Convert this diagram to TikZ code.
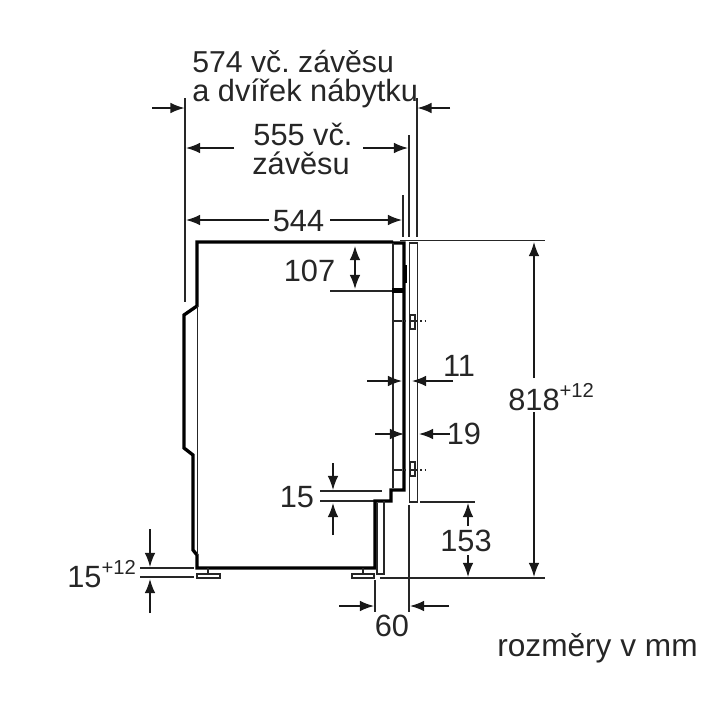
\documentclass[tikz,border=0pt]{standalone}
\usepackage{fontspec}
\setmainfont{Liberation Sans}
\usetikzlibrary{arrows.meta}
\frenchspacing
\newcommand{\plustol}{\raisebox{0.42em}{\fontsize{11.5}{12}\selectfont +12}}
\tikzstyle{ann} = [text=black!85,font=\fontsize{17.5}{20}\selectfont,inner sep=0pt]
\tikzstyle{thin line} = [line width=0.9pt,black!85]
\tikzstyle{wall} = [line width=1.9pt,black,line join=miter]
\tikzstyle{dim} = [line width=0.8pt,black!90,-{Latex[length=8pt,width=6pt]}]
\tikzstyle{dbl} = [line width=0.8pt,black!90,{Latex[length=8pt,width=6pt]}-{Latex[length=8pt,width=6pt]}]
\tikzstyle{axis} = [line width=0.7pt,black!85,dash pattern=on5pt off1.5pt on1pt off1.5pt]

\begin{document}
\begin{tikzpicture}[x=0.02cm,y=-0.02cm]
\useasboundingbox (0,0) rectangle (714,714);

% extension lines
\draw[thin line] (185,98) -- (185,302);
\draw[thin line] (417,98) -- (417,237);
\draw[thin line] (409,135) -- (409,237);
\draw[thin line] (403,195) -- (403,237);
\draw[thin line] (400,240.5) -- (545,240.5);
\draw[thin line] (380,578) -- (545,578);
\draw[thin line] (420,502) -- (475,502);
\draw[thin line] (375,580) -- (375,612);
\draw[thin line] (409,505) -- (409,612);
\draw[thin line] (330,291) -- (393,291);
\draw[thin line] (320,491) -- (382,491);
\draw[thin line] (320,501) -- (375,501);
\draw[thin line] (140,568) -- (194,568);
\draw[thin line] (140,577) -- (194,577);

% body
\draw[wall] (393,242) -- (197,242) -- (197,306) -- (184,315) -- (184,448) -- (193,455)
  -- (193,550) -- (197,555) -- (197,568) -- (375,568) -- (375,501) -- (391,501) -- (391,490) -- (404,490) -- (404,243) -- (393,243);
\draw[thin line] (197.5,306) -- (197.5,555);
\draw[thin line] (393,243) -- (393,488);
\draw[line width=2.8pt] (392,290.5) -- (404,290.5);
\draw[line width=1.6pt] (406,265) -- (406,283);
\draw[thin line] (384,501) -- (384,574) -- (377,574) -- (377,503);

% door panel
\draw[thin line] (409.5,243) rectangle (417.5,502);
\draw[thin line,fill=white] (410,315) rectangle (415,329);
\draw[thin line,fill=white] (410,462) rectangle (415,476);
\draw[axis] (393,321) -- (426,321);
\draw[axis] (393,470) -- (426,470);

% feet
\draw[thin line] (197,574) rectangle (220,578);
\draw[thin line] (208,568) -- (208,574);
\draw[thin line] (352,574) rectangle (374,578);
\draw[thin line] (363,568) -- (363,574);

% dimensions
\draw[dim] (152,108) -- (184.5,108);
\draw[dim] (450,108) -- (417.5,108);
\draw[dim] (234,148) -- (186,148);
\draw[dim] (363,148) -- (408,148);
\draw[dim] (269,220) -- (186,220);
\draw[dim] (330,220) -- (402,220);
\draw[dbl] (355,246) -- (355,289);
\draw[dim] (367,381) -- (402,381);
\draw[dim] (453,381) -- (412,381);
\draw[dim] (375,434) -- (404,434);
\draw[dim] (450,434) -- (419,434);
\draw[dim] (534,378) -- (534,242);
\draw[dim] (534,412) -- (534,577);
\draw[dim] (468,526) -- (468,503);
\draw[dim] (468,555) -- (468,577);
\draw[dim] (333,463) -- (333,490);
\draw[dim] (333,535) -- (333,503);
\draw[dim] (150,529) -- (150,567);
\draw[dim] (150,613) -- (150,579);
\draw[dim] (339,606) -- (374,606);
\draw[dim] (449,606) -- (410,606);

% labels
\node[ann,anchor=west,font=\fontsize{17.2}{20}\selectfont] (depthA) at (192,61.5) {574 vč. závěsu};
\node[ann,anchor=west] (depthB) at (192,93.5) {a dvířek nábytku};
\node[ann] (hingeA) at (303,134) {555 vč.};
\node[ann] (hingeB) at (301,163) {závěsu};
\node[ann] (body) at (298.5,221) {544};
\node[ann] (upper) at (309.5,271) {107};
\node[ann] (gapA) at (459,366) {11};
\node[ann] (gapB) at (464,434) {19};
\node[ann,anchor=west] (height) at (508,397) {818\plustol};
\node[ann] (lip) at (297,497) {15};
\node[ann] (lower) at (466,541) {153};
\node[ann,anchor=west] (foot) at (67,574.5) {15\plustol};
\node[ann] (offset) at (392,626) {60};
\node[ann,anchor=west,font=\fontsize{18}{20}\selectfont] (unit) at (497,648.5) {rozměry v mm};
\end{tikzpicture}
\end{document}
